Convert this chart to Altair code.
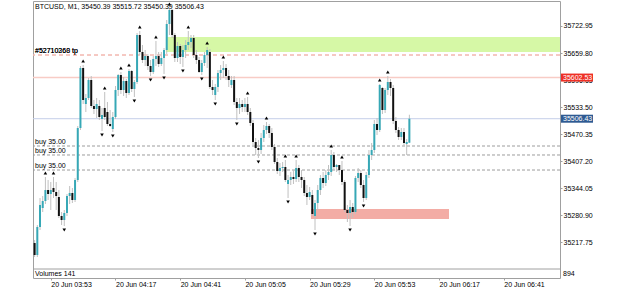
import altair as alt
import pandas as pd

# ---------------- data ----------------
open_ = [
    35216.12, 35188.09, 35253.49, 35297.86, 35314.21, 35339.91, 35330.57, 35344.58, 35335.24, 35323.56,
    35279.19, 35269.84, 35286.19, 35325.90, 35332.90, 35316.55, 35363.27, 35484.71, 35624.85, 35540.78,
    35554.78, 35596.83, 35536.11, 35529.10, 35536.11, 35505.74, 35531.43, 35522.09, 35494.06, 35482.38,
    35510.41, 35573.47, 35608.51, 35573.47, 35594.49, 35566.46, 35617.85, 35575.81, 35592.16, 35701.93,
    35662.23, 35643.54, 35652.89, 35629.53, 35615.52, 35645.88, 35652.89, 35634.20, 35648.21, 35666.90,
    35727.63, 35760.32, 35701.93, 35648.21, 35676.24, 35650.55, 35666.90, 35678.57, 35685.58, 35694.92,
    35655.22, 35643.54, 35615.52, 35636.53, 35655.22, 35662.23, 35580.48, 35561.79, 35580.48, 35613.18,
    35620.19, 35624.85, 35606.18, 35585.15, 35596.83, 35545.45, 35531.43, 35540.78, 35533.77, 35540.78,
    35522.09, 35496.39, 35452.02, 35438.00, 35433.34, 35461.36, 35480.05, 35489.39, 35473.04, 35440.34,
    35405.31, 35384.28, 35391.29, 35393.63, 35353.93, 35363.27, 35370.27, 35365.60, 35391.29, 35370.27,
    35363.27, 35332.90, 35323.56, 35328.23, 35279.19, 35309.54, 35339.91, 35367.93, 35356.26, 35374.94,
    35381.95, 35421.66, 35393.63, 35398.30, 35386.62, 35358.60, 35293.20, 35286.19, 35300.20, 35288.53,
    35367.93, 35379.61, 35351.59, 35321.22, 35374.94, 35421.66, 35433.34, 35494.06, 35480.05, 35578.14,
    35526.76, 35573.47, 35592.16, 35578.14, 35501.06, 35480.05, 35463.70, 35475.38, 35447.35, 35450.39,
]
high = [
    35223.13, 35258.16, 35321.22, 35325.90, 35370.27, 35363.27, 35358.60, 35370.27, 35358.60, 35339.91,
    35288.53, 35293.20, 35330.57, 35349.26, 35344.58, 35367.93, 35489.39, 35629.53, 35631.86, 35564.13,
    35601.50, 35606.18, 35550.12, 35554.78, 35550.12, 35531.43, 35568.80, 35545.45, 35526.76, 35522.09,
    35582.82, 35610.85, 35615.52, 35603.84, 35599.17, 35622.52, 35620.19, 35596.83, 35706.60, 35711.27,
    35678.57, 35666.90, 35657.56, 35643.54, 35652.89, 35687.91, 35662.23, 35662.23, 35671.56, 35736.97,
    35764.99, 35762.66, 35706.60, 35685.58, 35680.91, 35678.57, 35690.25, 35711.27, 35701.93, 35701.93,
    35666.90, 35650.55, 35643.54, 35662.23, 35673.90, 35669.23, 35596.83, 35587.49, 35620.19, 35631.86,
    35641.20, 35634.20, 35620.19, 35606.18, 35606.18, 35554.78, 35554.78, 35550.12, 35554.78, 35557.12,
    35531.43, 35503.40, 35461.36, 35456.69, 35473.04, 35491.72, 35498.73, 35494.06, 35484.71, 35447.35,
    35414.65, 35402.97, 35405.31, 35409.98, 35374.94, 35381.95, 35386.62, 35409.98, 35398.30, 35386.62,
    35370.27, 35351.59, 35346.92, 35339.91, 35316.55, 35351.59, 35374.94, 35381.95, 35386.62, 35398.30,
    35433.34, 35428.67, 35400.64, 35398.30, 35407.64, 35363.27, 35304.87, 35316.55, 35309.54, 35372.61,
    35391.29, 35386.62, 35363.27, 35381.95, 35433.34, 35449.68, 35503.40, 35508.07, 35587.49, 35580.48,
    35578.14, 35606.18, 35599.17, 35585.15, 35510.41, 35487.05, 35484.71, 35484.71, 35459.03, 35515.72,
]
low = [
    35183.42, 35183.42, 35246.49, 35288.53, 35307.21, 35316.55, 35293.20, 35321.22, 35293.20, 35274.51,
    35258.16, 35255.83, 35279.19, 35307.21, 35309.54, 35311.88, 35358.60, 35480.05, 35540.78, 35522.09,
    35550.12, 35531.43, 35517.42, 35508.07, 35503.40, 35477.71, 35503.40, 35489.39, 35487.05, 35475.38,
    35505.74, 35559.46, 35564.13, 35559.46, 35554.78, 35561.79, 35568.80, 35557.12, 35587.49, 35655.22,
    35636.53, 35629.53, 35620.19, 35606.18, 35610.85, 35629.53, 35627.19, 35629.53, 35610.85, 35657.56,
    35701.93, 35694.92, 35638.87, 35638.87, 35634.20, 35627.19, 35648.21, 35666.90, 35671.56, 35648.21,
    35634.20, 35613.18, 35608.51, 35629.53, 35624.85, 35575.81, 35561.79, 35550.12, 35568.80, 35596.83,
    35601.50, 35596.83, 35580.48, 35578.14, 35538.44, 35503.40, 35517.42, 35522.09, 35522.09, 35515.08,
    35489.39, 35445.01, 35421.66, 35414.65, 35424.00, 35452.02, 35470.71, 35461.36, 35433.34, 35400.64,
    35377.28, 35372.61, 35381.95, 35358.60, 35321.22, 35351.59, 35353.93, 35358.60, 35358.60, 35344.58,
    35325.90, 35304.87, 35316.55, 35279.19, 35246.49, 35293.20, 35328.23, 35344.58, 35349.26, 35363.27,
    35372.61, 35386.62, 35381.95, 35374.94, 35351.59, 35288.53, 35265.17, 35255.83, 35274.51, 35283.86,
    35358.60, 35344.58, 35311.88, 35316.55, 35367.93, 35409.98, 35426.33, 35468.37, 35475.38, 35517.42,
    35519.75, 35561.79, 35559.46, 35494.06, 35473.04, 35456.69, 35456.69, 35442.68, 35421.66, 35450.39,
]
close = [
    35188.09, 35253.49, 35304.87, 35314.21, 35339.91, 35330.57, 35339.91, 35335.24, 35325.90, 35279.19,
    35269.84, 35286.19, 35325.90, 35332.90, 35316.55, 35363.27, 35484.71, 35624.85, 35550.12, 35554.78,
    35596.83, 35536.11, 35529.10, 35540.78, 35510.41, 35515.08, 35510.41, 35494.06, 35489.39, 35510.41,
    35573.47, 35608.51, 35573.47, 35594.49, 35566.46, 35617.85, 35575.81, 35592.16, 35701.93, 35662.23,
    35643.54, 35652.89, 35629.53, 35615.52, 35645.88, 35652.89, 35634.20, 35648.21, 35666.90, 35727.63,
    35760.32, 35701.93, 35648.21, 35676.24, 35650.55, 35666.90, 35678.57, 35685.58, 35694.92, 35655.22,
    35643.54, 35615.52, 35636.53, 35655.22, 35666.90, 35580.48, 35573.47, 35580.48, 35613.18, 35620.19,
    35624.85, 35606.18, 35596.83, 35596.83, 35545.45, 35531.43, 35540.78, 35533.77, 35540.78, 35522.09,
    35496.39, 35452.02, 35438.00, 35433.34, 35461.36, 35480.05, 35489.39, 35473.04, 35440.34, 35405.31,
    35384.28, 35391.29, 35393.63, 35363.27, 35363.27, 35370.27, 35365.60, 35391.29, 35370.27, 35363.27,
    35332.90, 35323.56, 35335.24, 35283.86, 35309.54, 35339.91, 35367.93, 35356.26, 35374.94, 35381.95,
    35421.66, 35393.63, 35398.30, 35386.62, 35358.60, 35293.20, 35286.19, 35300.20, 35288.53, 35367.93,
    35379.61, 35351.59, 35321.22, 35374.94, 35421.66, 35433.34, 35494.06, 35480.05, 35585.15, 35526.76,
    35573.47, 35592.16, 35578.14, 35501.06, 35480.05, 35463.70, 35475.38, 35449.68, 35452.02, 35506.43,
]
fractal_up = [4, 7, 18, 26, 32, 35, 39, 45, 50, 57, 64, 70, 79, 86, 93, 97, 110, 114, 128, 131]
fractal_down = [11, 25, 29, 37, 43, 48, 55, 62, 67, 75, 83, 94, 104, 117, 122]

tick_index = [6, 30, 54, 78, 102, 126, 150, 174]
tick_labels = ["20 Jun 03:53", "20 Jun 04:17", "20 Jun 04:41", "20 Jun 05:05",
               "20 Jun 05:29", "20 Jun 05:53", "20 Jun 06:17", "20 Jun 06:41"]
price_ticks = [35722.95, 35659.80, 35596.65, 35533.50, 35470.35, 35407.20, 35344.05, 35280.90, 35217.75]

title_text = "BTCUSD, M1, 35450.39 35515.72 35450.39 35506.43"
tp_level = 35655.2
tp_labels = ["#52710368 tp", "#52710260 tp"]
buy_levels = [35442.7, 35421.7, 35386.6]
buy_labels = ["buy 35.00", "buy 35.00", "buy 35.00"]
ask_price = 35602.53
bid_price = 35506.43
zone_x0 = [48.7, 102.5]
zone_x1 = [200.0, 153.7]
zone_p0 = [35662.2, 35272.2]
zone_p1 = [35697.3, 35295.6]
zone_colors = ["#d6f8a6", "#f3aca5"]
volume_label = "Volumes 141"
volume_max_label = "894"

# ---------------- styling ----------------
FONT = "Liberation Sans"
FS = 7
BULL = "#36a8b6"
BEAR = "#111111"
WICK = "#c0c0c0"
BORDER = "#a0a0a0"
W, H = 527, 277

xs = alt.Scale(domain=[-0.6, 194.87], nice=False, zero=False)
ys = alt.Scale(domain=[35134.43, 35781.33], nice=False, zero=False)

bars = pd.DataFrame({"i": list(range(len(close))), "open": open_, "high": high,
                     "low": low, "close": close})
bars["dir"] = ["bull" if c >= o else "bear" for o, c in zip(open_, close)]

up_df = pd.DataFrame({"i": fractal_up, "p": [high[k] for k in fractal_up]})
dn_df = pd.DataFrame({"i": fractal_down, "p": [low[k] for k in fractal_down]})
zones = pd.DataFrame({"x0": zone_x0, "x1": zone_x1, "p0": zone_p0, "p1": zone_p1, "c": zone_colors})
tp_df = pd.DataFrame({"p": [tp_level] * len(tp_labels), "t": tp_labels})
buy_df = pd.DataFrame({"p": buy_levels, "t": buy_labels})
ask_df = pd.DataFrame({"p": [ask_price], "t": [f"{ask_price:.2f}"]})
bid_df = pd.DataFrame({"p": [bid_price], "t": [f"{bid_price:.2f}"]})
axis_df = pd.DataFrame({"i": [tick_index[0]], "p": [price_ticks[0]]})

label_expr = "[" + ",".join(f"'{t}'" for t in tick_labels) + "][round((datum.value-6)/24)]"

x_axis = alt.Axis(values=tick_index, tickCount=30, labelExpr=label_expr, labelAlign="left",
                  labelBaseline="top", labelPadding=0, tickSize=2, tickColor=BORDER, domain=False,
                  grid=False, labelFont=FONT, labelFontSize=FS, labelColor="#000000",
                  labelFlush=False, labelOverlap=False, title=None)
y_axis = alt.Axis(orient="right", values=price_ticks, tickCount=30, format=".2f", tickSize=2,
                  labelPadding=1, tickColor=BORDER, domain=False, grid=False, labelFont=FONT,
                  labelFontSize=FS, labelColor="#000000", labelFlush=False, labelOverlap=False,
                  title=None)

# invisible layer that only carries the axes
axis_layer = alt.Chart(axis_df).mark_point(opacity=0).encode(
    x=alt.X("i:Q", scale=xs, axis=x_axis),
    y=alt.Y("p:Q", scale=ys, axis=y_axis))

zone_layer = alt.Chart(zones).mark_rect(clip=True).encode(
    x=alt.X("x0:Q", scale=xs), x2="x1:Q",
    y=alt.Y("p0:Q", scale=ys), y2="p1:Q",
    color=alt.Color("c:N", scale=None))

tp_line = alt.Chart(tp_df).mark_rule(color="#f2b6ae", strokeDash=[4, 3]).encode(
    y=alt.Y("p:Q", scale=ys))
ask_line = alt.Chart(ask_df).mark_rule(color="#f8ccc5", strokeWidth=1.6).encode(
    y=alt.Y("p:Q", scale=ys))
bid_line = alt.Chart(bid_df).mark_rule(color="#c4cfe9", strokeWidth=1).encode(
    y=alt.Y("p:Q", scale=ys))
buy_lines = alt.Chart(buy_df).mark_rule(color="#9c9c9c", strokeDash=[3, 2]).encode(
    y=alt.Y("p:Q", scale=ys))

wicks = alt.Chart(bars).mark_rule(color=WICK, strokeWidth=1).encode(
    x=alt.X("i:Q", scale=xs),
    y=alt.Y("low:Q", scale=ys), y2="high:Q")
bodies = alt.Chart(bars).mark_rule(strokeWidth=2).encode(
    x=alt.X("i:Q", scale=xs),
    y=alt.Y("open:Q", scale=ys), y2="close:Q",
    color=alt.Color("dir:N", scale=alt.Scale(domain=["bull", "bear"], range=[BULL, BEAR]), legend=None))

frac_up = alt.Chart(up_df).mark_point(shape="triangle-up", size=13, filled=True, color="#000000",
                                      opacity=1, yOffset=-4).encode(
    x=alt.X("i:Q", scale=xs), y=alt.Y("p:Q", scale=ys))
frac_dn = alt.Chart(dn_df).mark_point(shape="triangle-down", size=13, filled=True, color="#000000",
                                      opacity=1, yOffset=4).encode(
    x=alt.X("i:Q", scale=xs), y=alt.Y("p:Q", scale=ys))

txt = dict(font=FONT, fontSize=FS, color="#000000", align="left", baseline="middle")
tp_text = alt.Chart(tp_df).mark_text(dy=-4, **txt).encode(
    x=alt.value(2), y=alt.Y("p:Q", scale=ys), text="t:N")
buy_text = alt.Chart(buy_df).mark_text(dy=-4, **txt).encode(
    x=alt.value(2), y=alt.Y("p:Q", scale=ys), text="t:N")

title_layer = alt.Chart(pd.DataFrame({"t": [title_text]})).mark_text(**txt).encode(
    x=alt.value(2), y=alt.value(5.5), text="t:N")

sep = alt.Chart(pd.DataFrame({"a": [0]})).mark_rule(color=BORDER, strokeWidth=1).encode(
    x=alt.value(0), x2=alt.value(W), y=alt.value(268))
vol_text = alt.Chart(pd.DataFrame({"t": [volume_label]})).mark_text(**txt).encode(
    x=alt.value(2), y=alt.value(272.5), text="t:N")
vol_max = alt.Chart(pd.DataFrame({"t": [volume_max_label]})).mark_text(**txt).encode(
    x=alt.value(W + 3), y=alt.value(272.5), text="t:N")

ask_box = alt.Chart(ask_df).mark_rule(color="#ee2f25", strokeWidth=8).encode(
    x=alt.value(W + 1), x2=alt.value(W + 33), y=alt.Y("p:Q", scale=ys))
bid_box = alt.Chart(bid_df).mark_rule(color="#2e5a92", strokeWidth=8).encode(
    x=alt.value(W + 1), x2=alt.value(W + 33), y=alt.Y("p:Q", scale=ys))
ask_txt = alt.Chart(ask_df).mark_text(font=FONT, fontSize=FS, color="#ffffff", align="left",
                                      baseline="middle").encode(
    x=alt.value(W + 3), y=alt.Y("p:Q", scale=ys), text="t:N")
bid_txt = alt.Chart(bid_df).mark_text(font=FONT, fontSize=FS, color="#ffffff", align="left",
                                      baseline="middle").encode(
    x=alt.value(W + 3), y=alt.Y("p:Q", scale=ys), text="t:N")

chart = alt.layer(
    axis_layer, zone_layer, tp_line, ask_line, bid_line, buy_lines,
    wicks, bodies, frac_up, frac_dn,
    tp_text, buy_text, title_layer, sep, vol_text, vol_max,
    ask_box, bid_box, ask_txt, bid_txt,
).properties(
    width=W, height=H,
    padding={"left": 33, "top": 1, "right": 65, "bottom": 11},
    autosize=alt.AutoSizeParams(type="none"),
    background="#ffffff",
).configure_view(
    stroke=BORDER, strokeWidth=1
).configure_axis(
    labelOverlap=False, labelSeparation=0
)

chart.save("out.html", embed_options={"renderer": "svg", "actions": False})
